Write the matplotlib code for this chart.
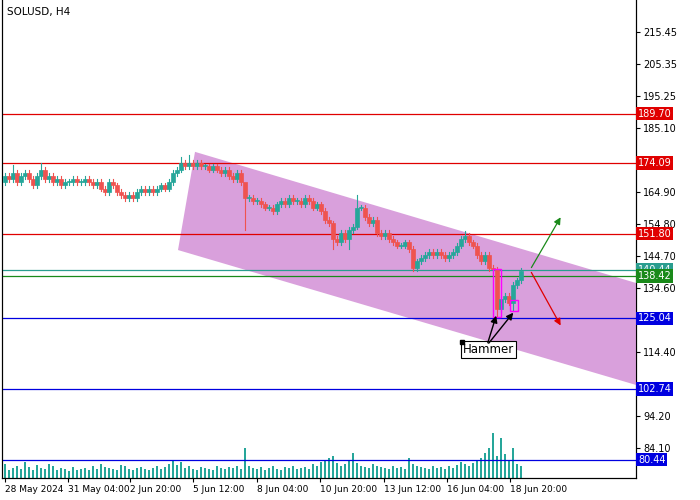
import matplotlib
matplotlib.use("Agg")
import matplotlib.pyplot as plt
from matplotlib.patches import Polygon, Rectangle

closes = [170,169,171,168,170,171,169,167,170,172,169,170,168,169,
          167,168,168,169,168,168,169,168,167,168,166,165,168,167,165,164,163,
          164,163,165,166,165,166,165,166,167,166,
          168,171,172,174,173,
          174,173,174,173,173,172,173,172,171,172,170,169,171,168,
          163,
          163,162,162,161,160,160,159,161,162,161,163,162,162,
          161,163,162,160,161,159,156,
          155,150,149,152,150,
          153,154,160,
          160,157,155,156,152,151,152,
          150,149,148,148,149,147,
          141,
          143,144,145,146,145,146,145,144,145,146,148,150,
          151,149,148,145,
          143,145,141,140.5,128,131,132,130,135.5,137,140]
first_open = 168
high_over = {2: 173.5, 9: 174, 44: 176, 46: 176.5, 60: 165, 88: 164, 115: 152.5}
low_over = {60: 153, 102: 140, 123: 125.5, 127: 127.5, 82: 147, 86: 147}
volumes = [14,8,10,12,9,16,11,8,13,10,9,14,12,8,10,9,7,11,8,9,10,8,12,9,14,11,10,9,8,13,12,
           9,8,10,11,9,8,10,12,9,11,14,18,13,16,10,12,9,8,11,10,9,8,12,10,9,11,10,12,9,
           30,12,10,9,11,8,10,12,9,8,11,10,12,9,10,11,9,14,12,16,18,20,22,15,12,14,18,25,
           15,12,11,10,14,12,11,10,9,12,10,11,9,20,14,12,11,10,9,12,10,11,9,12,10,13,
           16,14,12,15,18,20,25,30,45,22,40,24,18,30,14,12]
levels = [189.70, 174.09, 151.80, 140.44, 138.42, 125.04, 102.74, 80.44]
level_colors = ["#e00000", "#e00000", "#e00000", "#2a9d8f", "#1a8a1a", "#0000e0", "#0000e0", "#0000e0"]
yticks = [215.45, 205.35, 195.25, 185.10, 164.90, 154.80, 144.70, 134.60, 114.40, 94.20, 84.10]
date_pos = [0, 15.75, 31.25, 47, 63, 78.75, 94.75, 110.5, 126.25]
date_labels = ["28 May 2024", "31 May 04:00", "2 Jun 20:00", "5 Jun 12:00", "8 Jun 04:00",
               "10 Jun 20:00", "13 Jun 12:00", "16 Jun 04:00", "18 Jun 20:00"]
channel = [(47.5, 177.6), (157.75, 136.2), (157.75, 104.0), (43.25, 146.6)]

fig = plt.figure(figsize=(7, 5), dpi=100)
ax = fig.add_axes([2/700, 22/500, 634/700, 478/500])
ax.set_xlim(-0.75, 157.75)
ax.set_ylim(74.62, 225.55)

ax.add_patch(Polygon(channel, closed=True, facecolor="#d9a0dc", edgecolor="none", zorder=1))

vax = ax.twinx()
vax.set_ylim(0, 478)
vax.bar(range(len(volumes)), volumes, width=0.3, color="#26a69a", zorder=1)
vax.set_yticks([])
vax.set_zorder(0)
ax.set_zorder(1)
ax.patch.set_visible(False)

up, dn = "#26a69a", "#ef5350"
prev = first_open
for i, c in enumerate(closes):
    o = prev
    h = high_over.get(i, max(o, c) + 0.9)
    l = low_over.get(i, min(o, c) - 0.9)
    col = up if c >= o else dn
    ax.plot([i, i], [l, h], color=col, lw=0.8, zorder=3)
    ax.add_patch(Rectangle((i - 0.38, min(o, c)), 0.76, max(abs(c - o), 0.3),
                           facecolor=col, edgecolor=col, lw=0.5, zorder=3))
    prev = c

for lv, lc in zip(levels, level_colors):
    ax.axhline(lv, color=lc, lw=0.9, zorder=2)

ax.add_patch(Rectangle((121.9, 125.3), 2.2, 15.3, fill=False, edgecolor="#ff00ff", lw=1, zorder=4))
ax.add_patch(Rectangle((126.2, 127.3), 2.0, 3.5, fill=False, edgecolor="#ff00ff", lw=1, zorder=4))

ax.annotate("", xy=(139.25, 157.7), xytext=(131.25, 140.3),
            arrowprops=dict(arrowstyle="-|>", color="#1a8a1a", lw=0.9), zorder=5)
ax.annotate("", xy=(139.25, 122.0), xytext=(131.25, 140.3),
            arrowprops=dict(arrowstyle="-|>", color="#e00000", lw=0.9), zorder=5)

ax.text(114.5, 115.2, "Hammer", fontsize=8.5, va="center", ha="left", zorder=6,
        bbox=dict(facecolor="white", edgecolor="black", lw=0.8, pad=1.5))
ax.plot([114.25], [117.6], marker="s", color="black", ms=3, zorder=7)
for tx, ty in [(123.0, 126.7), (127.5, 127.5)]:
    ax.annotate("", xy=(tx, ty), xytext=(120.5, 116.5),
                arrowprops=dict(arrowstyle="-|>", color="black", lw=1.0), zorder=6)

ax.yaxis.tick_right()
ax.set_yticks(yticks)
ax.set_yticklabels([f"{t:.2f}" for t in yticks], fontsize=7)
ax.tick_params(axis="y", length=3, pad=2)
for lv, lc in zip(levels, level_colors):
    ax.text(1.003, (lv - 74.62) / (225.55 - 74.62), f"{lv:.2f}", transform=ax.transAxes,
            fontsize=7, color="white", va="center", ha="left", zorder=10, clip_on=False,
            bbox=dict(facecolor=lc, edgecolor="none", pad=1.2))

ax.set_xticks(date_pos)
ax.set_xticklabels(date_labels, fontsize=6.5, ha="left")
ax.tick_params(axis="x", length=3, pad=2)
ax.spines["top"].set_visible(False)
vax.spines["top"].set_visible(False)

ax.text(0.008, 0.985, "SOLUSD, H4", transform=ax.transAxes, fontsize=7.5, va="top", ha="left")

fig.savefig("out.png", dpi=100)
